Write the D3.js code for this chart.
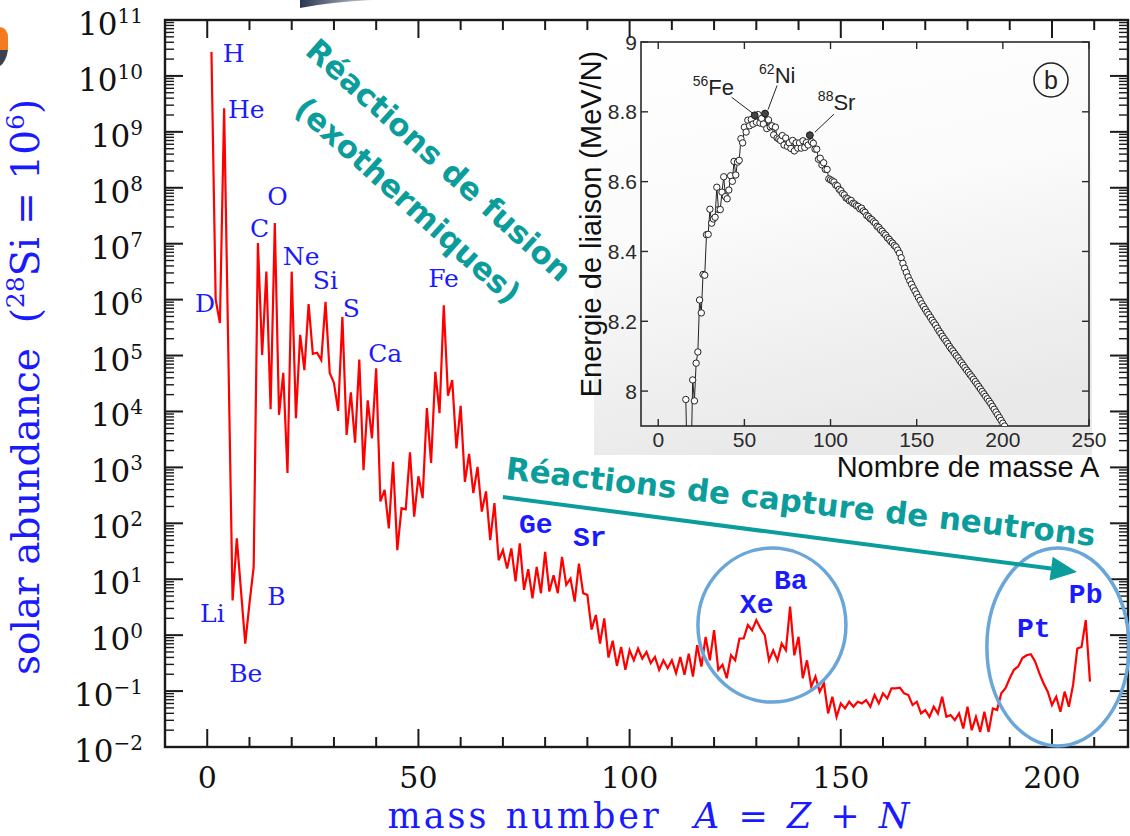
<!DOCTYPE html>
<html>
<head>
<meta charset="utf-8">
<script src="https://cdn.jsdelivr.net/npm/d3@7"></script>
<style>
  body { margin: 0; background: #fff; }
  svg { display: block; }
</style>
</head>
<body>
<div id="graph"></div>
<script>
// ---- main chart data: solar abundance per mass number, log10 (Si = 1e6) ----
var massNumbers = [1, 2, 3, 4, 6, 7, 9].concat(d3.range(10, 210));
var logAbundance = [
  10.43, 6.00, 5.58, 9.42, 0.62, 1.73, -0.15,
  0.57, 1.22, 7.01, 5.01, 6.50, 4.04, 7.37, 3.94, 4.69, 2.90,          // 10-19
  6.50, 3.88, 5.37, 4.74, 5.92, 5.03, 5.05, 4.92, 5.96, 4.69,          // 20-29
  4.51, 4.01, 5.69, 3.58, 4.34, 3.44, 4.93, 2.95, 4.20, 3.52,          // 30-39
  4.77, 2.39, 2.60, 1.91, 3.10, 1.52, 2.27, 2.25, 3.27, 2.12,          // 40-49
  2.84, 2.45, 4.06, 3.08, 4.71, 3.97, 5.90, 4.28, 4.56, 3.34,          // 50-59
  4.10, 2.74, 3.24, 2.54, 3.01, 2.21, 2.57, 1.70, 2.36, 1.34,          // 60-69
  1.52, 1.19, 1.55, 0.96, 1.64, 0.81, 1.18, 0.66, 1.22, 0.75,          // 70-79
  1.49, 0.78, 1.07, 0.75, 1.40, 0.90, 1.01, 0.60, 1.28, 0.75,          // 80-89
  0.72, 0.10, 0.36, -0.15, 0.30, -0.40, -0.10, -0.55, -0.21, -0.62,    // 90-99
  -0.27, -0.45, -0.24, -0.42, -0.30, -0.50, -0.39, -0.62, -0.45, -0.59, // 100-109
  -0.45, -0.68, -0.39, -0.71, -0.33, -0.74, -0.18, -0.56, -0.03, -0.45, // 110-119
  0.09, -0.62, -0.53, -0.77, -0.36, -0.45, -0.06, -0.06, 0.18, 0.09,    // 120-129
  0.27, 0.12, 0.00, -0.45, -0.27, -0.45, -0.15, -0.27, 0.51, -0.36,     // 130-139
  -0.03, -0.77, -0.45, -0.92, -0.74, -1.01, -0.86, -1.40, -1.10, -1.46, // 140-149
  -1.22, -1.31, -1.19, -1.28, -1.19, -1.22, -1.16, -1.28, -1.07, -1.22, // 150-159
  -1.04, -1.13, -0.95, -0.95, -0.94, -1.04, -1.07, -1.25, -1.19, -1.40, // 160-169
  -1.34, -1.46, -1.28, -1.40, -1.10, -1.46, -1.43, -1.52, -1.40, -1.67, // 170-179
  -1.28, -1.70, -1.46, -1.73, -1.37, -1.73, -1.31, -1.34, -1.04, -0.95, // 180-189
  -0.77, -0.62, -0.56, -0.41, -0.36, -0.34, -0.47, -0.68, -0.86, -1.01, // 190-199
  -1.25, -1.10, -1.37, -1.01, -1.28, -0.89, -0.24, -0.21, 0.27, -0.83   // 200-209
];
var xMajorTicks = [0, 50, 100, 150, 200];
var yExponents = d3.range(-2, 12);

// element names placed next to the peaks (mass number, log10 of baseline)
var serifLabels = [
  {name: 'H', A: 3.7, lg: 10.25}, {name: 'He', A: 4.9, lg: 9.25},
  {name: 'D', A: -2.9, lg: 5.78}, {name: 'Li', A: -1.7, lg: 0.23},
  {name: 'Be', A: 5.2, lg: -0.84}, {name: 'B', A: 14.2, lg: 0.54},
  {name: 'C', A: 10.1, lg: 7.12}, {name: 'O', A: 14.2, lg: 7.69},
  {name: 'Ne', A: 17.9, lg: 6.62}, {name: 'Si', A: 25.0, lg: 6.19},
  {name: 'S', A: 32.1, lg: 5.69}, {name: 'Ca', A: 38.1, lg: 4.88},
  {name: 'Fe', A: 52.3, lg: 6.23}
];
var monoLabels = [
  {name: 'Ge', A: 73.8, lg: 1.83}, {name: 'Sr', A: 86.6, lg: 1.59},
  {name: 'Xe', A: 126.1, lg: 0.40}, {name: 'Ba', A: 134.2, lg: 0.82},
  {name: 'Pt', A: 191.7, lg: -0.03}, {name: 'Pb', A: 204.0, lg: 0.57}
];

// ---- inset data: binding energy per nucleon (MeV) ----
var bindingA = d3.range(16, 202);
var bindingEnergy = [
  7.976, 7.751, 7.767, 7.779, 8.032, 7.972, 8.080, 8.112, 8.261, 8.224,  // 16-25
  8.334, 8.332, 8.448, 8.449, 8.521, 8.481, 8.493, 8.498, 8.584, 8.520,  // 26-35
  8.520, 8.570, 8.614, 8.557, 8.551, 8.576, 8.617, 8.601, 8.658, 8.619,  // 36-45
  8.656, 8.661, 8.723, 8.711, 8.756, 8.742, 8.776, 8.760, 8.778, 8.765,  // 46-55
  8.790, 8.770, 8.792, 8.768, 8.781, 8.765, 8.795, 8.752, 8.777, 8.757,  // 56-65
  8.760, 8.734, 8.756, 8.725, 8.722, 8.718, 8.732, 8.705, 8.725, 8.701,  // 66-75
  8.711, 8.695, 8.718, 8.688, 8.711, 8.696, 8.711, 8.696, 8.717, 8.698,  // 76-85
  8.712, 8.705, 8.733, 8.714, 8.710, 8.693, 8.693, 8.664, 8.667, 8.648,  // 86-95
  8.654, 8.635, 8.635, 8.608, 8.605, 8.602, 8.599, 8.590, 8.588, 8.578,  // 96-105
  8.574, 8.566, 8.562, 8.553, 8.551, 8.545, 8.546, 8.538, 8.536, 8.531,  // 106-115
  8.529, 8.522, 8.524, 8.516, 8.512, 8.503, 8.500, 8.494, 8.491, 8.485,  // 116-125
  8.481, 8.472, 8.469, 8.462, 8.458, 8.451, 8.447, 8.439, 8.435, 8.428,  // 126-135
  8.424, 8.417, 8.413, 8.404, 8.395, 8.382, 8.366, 8.352, 8.340, 8.327,  // 136-145
  8.316, 8.306, 8.296, 8.287, 8.278, 8.268, 8.260, 8.250, 8.242, 8.234,  // 146-155
  8.226, 8.219, 8.211, 8.203, 8.196, 8.189, 8.180, 8.172, 8.165, 8.157,  // 156-165
  8.150, 8.143, 8.136, 8.128, 8.121, 8.115, 8.108, 8.101, 8.095, 8.087,  // 166-175
  8.081, 8.074, 8.067, 8.060, 8.054, 8.047, 8.041, 8.034, 8.027, 8.020,  // 176-185
  8.013, 8.006, 7.999, 7.992, 7.985, 7.978, 7.971, 7.964, 7.956, 7.948,  // 186-195
  7.940, 7.932, 7.924, 7.916, 7.908, 7.900                               // 196-201
];
var highlighted = [{A: 56, iso: '56', el: 'Fe'}, {A: 62, iso: '62', el: 'Ni'}, {A: 88, iso: '88', el: 'Sr'}];
var insetXTicks = [0, 50, 100, 150, 200, 250];
var insetYTicks = [8, 8.2, 8.4, 8.6, 8.8, 9];

var blue = '#1a1aff', teal = '#0b9c9c', ringBlue = '#6aa6d8';

var svg = d3.select('#graph').append('svg')
    .attr('width', 1130)
    .attr('height', 836);
var defs = svg.append('defs');

// slide background fragments
svg.append('path').attr('d', 'M0,27 Q8,28 8,38 L8,50 L0,50 Z').attr('fill', '#f47b20');
svg.append('path').attr('d', 'M0,50 L8,50 Q6,62 0,66 Z').attr('fill', '#3b4250');
var sw = defs.append('linearGradient').attr('id', 'swoosh');
sw.append('stop').attr('offset', '0%').attr('stop-color', '#2a3550');
sw.append('stop').attr('offset', '100%').attr('stop-color', '#c9ced8');
svg.append('path').attr('d', 'M300,8 Q330,2 372,0 L300,0 Z').attr('fill', 'url(#swoosh)');

var x = d3.scaleLinear().domain([-10, 218]).range([165, 1128]);
var y = d3.scaleLog().domain([1e-2, 1e11]).range([747, 20]);
var x0 = x.range()[0], x1 = x.range()[1], yb = y.range()[0], yt = y.range()[1];

// ---- frame and ticks ----
var axes = svg.append('g').attr('stroke', '#1a1a1a');
axes.append('rect')
    .attr('x', x0).attr('y', yt)
    .attr('width', x1 - x0).attr('height', yb - yt)
    .attr('fill', 'none').attr('stroke-width', 2.4);

var minorY = [];
yExponents.forEach(function(k) {
  if (k < 11) d3.range(2, 10).forEach(function(m) { minorY.push(m * Math.pow(10, k)); });
});
function yTicks(vals, len, w) {
  vals.forEach(function(v) {
    axes.append('line').attr('x1', x0).attr('x2', x0 + len).attr('y1', y(v)).attr('y2', y(v)).attr('stroke-width', w);
    axes.append('line').attr('x1', x1).attr('x2', x1 - len).attr('y1', y(v)).attr('y2', y(v)).attr('stroke-width', w);
  });
}
yTicks(yExponents.map(function(k) { return Math.pow(10, k); }), 18, 2);
yTicks(minorY, 9, 1.4);

var minorX = d3.range(0, 220, 10).filter(function(t) { return xMajorTicks.indexOf(t) < 0; });
function xTicks(vals, len) {
  vals.forEach(function(v) {
    axes.append('line').attr('x1', x(v)).attr('x2', x(v)).attr('y1', yb).attr('y2', yb - len).attr('stroke-width', 2);
    axes.append('line').attr('x1', x(v)).attr('x2', x(v)).attr('y1', yt).attr('y2', yt + len).attr('stroke-width', 2);
  });
}
xTicks(xMajorTicks, 18);
xTicks(minorX, 10);

// tick labels
var tl = svg.append('g').attr('font-family', 'DejaVu Serif').attr('fill', '#111');
yExponents.forEach(function(k) {
  var t = tl.append('text')
      .attr('x', x0 - 22).attr('y', y(Math.pow(10, k)) + 15)
      .attr('text-anchor', 'end').attr('font-size', 31);
  t.append('tspan').text('10');
  t.append('tspan').attr('font-size', 20).attr('dy', -12).text(k < 0 ? '\u2212' + (-k) : String(k));
});
xMajorTicks.forEach(function(v) {
  tl.append('text').attr('x', x(v)).attr('y', yb + 41)
      .attr('text-anchor', 'middle').attr('font-size', 30).text(v);
});

// axis titles
var yt1 = svg.append('text')
    .attr('transform', 'translate(39,387) rotate(-90)')
    .attr('text-anchor', 'middle')
    .attr('font-family', 'DejaVu Serif').attr('font-size', 39)
    .attr('fill', blue).style('white-space', 'pre');
yt1.append('tspan').text('solar abundance  (');
yt1.append('tspan').attr('font-size', 25).attr('dy', -15).text('28');
yt1.append('tspan').attr('dy', 15).text('Si = 10');
yt1.append('tspan').attr('font-size', 25).attr('dy', -15).text('6');
yt1.append('tspan').attr('dy', 15).text(')');

var xt = svg.append('text')
    .attr('x', 650).attr('y', 828)
    .attr('text-anchor', 'middle')
    .attr('font-family', 'DejaVu Serif').attr('font-size', 35)
    .attr('letter-spacing', 3).attr('word-spacing', 2)
    .attr('fill', blue).style('white-space', 'pre');
xt.append('tspan').text('mass number  ');
xt.append('tspan').attr('font-style', 'italic').text('A');
xt.append('tspan').text(' = ');
xt.append('tspan').attr('font-style', 'italic').text('Z');
xt.append('tspan').text(' + ');
xt.append('tspan').attr('font-style', 'italic').text('N');

// ---- abundance curve ----
var pts = massNumbers.map(function(a, i) { return {A: a, v: logAbundance[i]}; });
var line = d3.line()
    .x(function(d) { return x(d.A); })
    .y(function(d) { return y(Math.pow(10, d.v)); });
svg.append('path').datum(pts)
    .attr('d', line)
    .attr('fill', 'none').attr('stroke', '#ff0000')
    .attr('stroke-width', 2.2).attr('stroke-linejoin', 'miter');

// element labels
svg.append('g').selectAll('text').data(serifLabels).enter().append('text')
    .attr('x', function(d) { return x(d.A); })
    .attr('y', function(d) { return y(Math.pow(10, d.lg)); })
    .attr('font-family', 'DejaVu Serif').attr('font-size', 25)
    .attr('fill', blue).text(function(d) { return d.name; });
svg.append('g').selectAll('text').data(monoLabels).enter().append('text')
    .attr('x', function(d) { return x(d.A); })
    .attr('y', function(d) { return y(Math.pow(10, d.lg)); })
    .attr('font-family', 'Liberation Mono').attr('font-size', 28)
    .attr('font-weight', 'bold')
    .attr('fill', blue).text(function(d) { return d.name; });

// circled regions
svg.append('ellipse')
    .attr('cx', x(133.7)).attr('cy', y(Math.pow(10, 0.18)))
    .attr('rx', 74).attr('ry', 77)
    .attr('fill', 'none').attr('stroke', ringBlue).attr('stroke-width', 3.5);
svg.append('ellipse')
    .attr('cx', x(201.4)).attr('cy', y(Math.pow(10, -0.21)))
    .attr('rx', 71).attr('ry', 99)
    .attr('fill', 'none').attr('stroke', ringBlue).attr('stroke-width', 3.5);

// ---- inset: binding energy ----
var xi = d3.scaleLinear().domain([-10, 250]).range([641, 1089]);
var yi = d3.scaleLinear().domain([7.9, 9.0]).range([426, 42]);
var bg = defs.append('linearGradient').attr('id', 'scan')
    .attr('x1', 0).attr('y1', 0).attr('x2', 0.25).attr('y2', 1);
bg.append('stop').attr('offset', '0%').attr('stop-color', '#ffffff');
bg.append('stop').attr('offset', '45%').attr('stop-color', '#fbfbfb');
bg.append('stop').attr('offset', '100%').attr('stop-color', '#e9e9e9');
defs.append('clipPath').attr('id', 'insetClip').append('rect')
    .attr('x', 641).attr('y', 42).attr('width', 448).attr('height', 384);

svg.append('rect').attr('x', 594).attr('y', 39).attr('width', 498).attr('height', 416)
    .attr('fill', 'url(#scan)');

var ins = svg.append('g').attr('stroke', '#2a2a2a');
ins.append('rect').attr('x', 641).attr('y', 42).attr('width', 448).attr('height', 384)
    .attr('fill', 'none').attr('stroke-width', 1.6);
insetXTicks.forEach(function(t) {
  ins.append('line').attr('x1', xi(t)).attr('x2', xi(t)).attr('y1', 426).attr('y2', 419).attr('stroke-width', 1.4);
  ins.append('line').attr('x1', xi(t)).attr('x2', xi(t)).attr('y1', 42).attr('y2', 49).attr('stroke-width', 1.4);
});
insetYTicks.forEach(function(t) {
  ins.append('line').attr('x1', 641).attr('x2', 648).attr('y1', yi(t)).attr('y2', yi(t)).attr('stroke-width', 1.4);
  ins.append('line').attr('x1', 1089).attr('x2', 1082).attr('y1', yi(t)).attr('y2', yi(t)).attr('stroke-width', 1.4);
});

var il = svg.append('g').attr('font-family', 'Liberation Sans').attr('fill', '#2a2a2a');
insetXTicks.forEach(function(t) {
  il.append('text').attr('x', xi(t)).attr('y', 447).attr('text-anchor', 'middle')
      .attr('font-size', 21).text(t);
});
var fmt = d3.format('.1~f');
insetYTicks.forEach(function(t) {
  il.append('text').attr('x', 637).attr('y', yi(t) + 7.5).attr('text-anchor', 'end')
      .attr('font-size', 21).text(fmt(t));
});
svg.append('text')
    .attr('transform', 'translate(601,224) rotate(-90)')
    .attr('text-anchor', 'middle')
    .attr('font-family', 'Liberation Sans').attr('font-size', 29).attr('fill', '#111')
    .text('Energie de liaison (MeV/N)');
svg.append('text')
    .attr('x', 968).attr('y', 477).attr('text-anchor', 'middle')
    .attr('font-family', 'Liberation Sans').attr('font-size', 29).attr('fill', '#111')
    .text('Nombre de masse A');

var bpts = bindingA.map(function(a, i) { return {A: a, e: bindingEnergy[i]}; });
var plot = svg.append('g').attr('clip-path', 'url(#insetClip)');
plot.append('path').datum(bpts)
    .attr('d', d3.line().x(function(d) { return xi(d.A); }).y(function(d) { return yi(d.e); }))
    .attr('fill', 'none').attr('stroke', '#222').attr('stroke-width', 1);
plot.selectAll('circle.o').data(bpts).enter().append('circle')
    .attr('class', 'o')
    .attr('cx', function(d) { return xi(d.A); })
    .attr('cy', function(d) { return yi(d.e); })
    .attr('r', 3.2)
    .attr('fill', '#fff').attr('stroke', '#222').attr('stroke-width', 1);
var hl = highlighted.map(function(h) {
  return {A: h.A, e: bindingEnergy[bindingA.indexOf(h.A)], iso: h.iso, el: h.el};
});
plot.selectAll('circle.f').data(hl).enter().append('circle')
    .attr('class', 'f')
    .attr('cx', function(d) { return xi(d.A); })
    .attr('cy', function(d) { return yi(d.e); })
    .attr('r', 3.4)
    .attr('fill', '#444').attr('stroke', '#222').attr('stroke-width', 1);

// isotope annotations: leader start, leader end and text anchor, relative to the marked point
var leaders = {
  Fe: {s: [-23, -18], e: [-2, -2], t: [-62, -20]},
  Ni: {s: [12, -28], e: [3, -4], t: [-6, -31]},
  Sr: {s: [24, -21], e: [5, -3], t: [8, -25]}
};
hl.forEach(function(d) {
  var px = xi(d.A), py = yi(d.e), o = leaders[d.el];
  svg.append('line')
      .attr('x1', px + o.s[0]).attr('y1', py + o.s[1])
      .attr('x2', px + o.e[0]).attr('y2', py + o.e[1])
      .attr('stroke', '#222').attr('stroke-width', 1);
  var t = svg.append('text')
      .attr('x', px + o.t[0]).attr('y', py + o.t[1])
      .attr('font-family', 'Liberation Sans').attr('font-size', 22).attr('fill', '#222');
  t.append('tspan').attr('font-size', 14).attr('dy', -9).text(d.iso);
  t.append('tspan').attr('dy', 9).text(d.el);
});

// panel tag (b)
svg.append('circle').attr('cx', 1051).attr('cy', 80).attr('r', 17)
    .attr('fill', 'none').attr('stroke', '#222').attr('stroke-width', 1.5);
svg.append('text').attr('x', 1051).attr('y', 89).attr('text-anchor', 'middle')
    .attr('font-family', 'Liberation Sans').attr('font-size', 25).attr('fill', '#222').text('b');

// ---- teal annotations ----
var ann = svg.append('g').attr('font-family', 'DejaVu Sans').attr('font-weight', 'bold')
    .attr('font-size', 31).attr('fill', teal);
var fus = ann.append('g').attr('transform', 'translate(439,160) rotate(42)');
fus.append('text').attr('text-anchor', 'middle').attr('dy', '0.35em').text('Réactions de fusion');
fus.append('text').attr('text-anchor', 'middle').attr('x', 4).attr('y', 51).attr('dy', '0.35em')
    .text('(exothermiques)');
ann.append('text')
    .attr('transform', 'translate(505,479) rotate(6.5)')
    .text('Réactions de capture de neutrons');

var ax0 = x(70), ay0 = y(Math.pow(10, 2.47)), ax1 = x(205.9), ay1 = y(Math.pow(10, 1.13));
var ang = Math.atan2(ay1 - ay0, ax1 - ax0);
var headLen = 26, headW = 12;
var bx = ax1 - headLen * Math.cos(ang), by = ay1 - headLen * Math.sin(ang);
svg.append('line').attr('x1', ax0).attr('y1', ay0).attr('x2', bx).attr('y2', by)
    .attr('stroke', teal).attr('stroke-width', 4);
svg.append('path')
    .attr('d', 'M' + ax1 + ',' + ay1 +
      'L' + (bx + headW * Math.sin(ang)) + ',' + (by - headW * Math.cos(ang)) +
      'L' + (bx - headW * Math.sin(ang)) + ',' + (by + headW * Math.cos(ang)) + 'Z')
    .attr('fill', teal);
</script>
</body>
</html>
